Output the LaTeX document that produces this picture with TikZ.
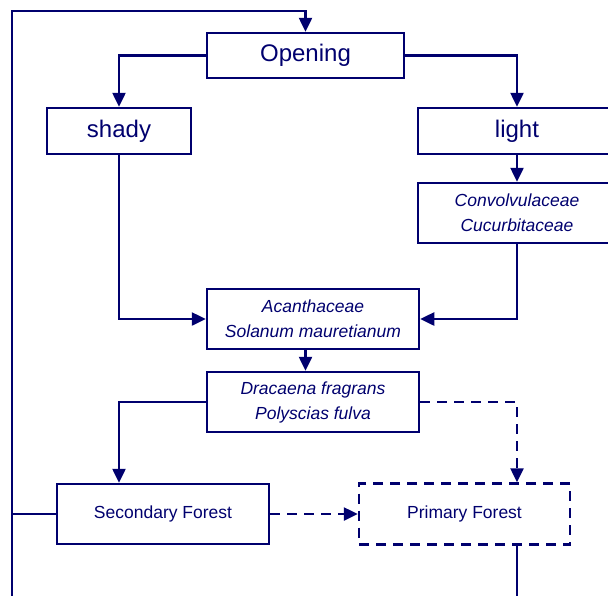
\documentclass[tikz,border=0pt]{standalone}
\usepackage{fontspec}
\setmainfont{Liberation Sans}
\usetikzlibrary{arrows.meta}
\definecolor{navy}{RGB}{0,0,110}

\begin{document}
\begin{tikzpicture}[x=1pt,y=-1pt,>={Triangle[length=14pt,width=13pt]},
 box/.style={draw=navy,line width=2.5pt,text=navy,inner sep=0pt,align=center,font=\fontsize{17.5}{25}\selectfont},
 big/.style={font=\fontsize{24}{28}\selectfont},
 taxa/.style={font=\fontsize{17.5}{25}\selectfont\itshape},
 flow/.style={->,line width=2.5pt,navy},
 maybe/.style={dash pattern=on 10pt off 7pt}]
\clip (0,0) rectangle (608,595);
\node[box,big,minimum width=197pt,minimum height=45pt] (opening) at (305.5,55.5) {Opening};
\node[box,big,minimum width=144pt,minimum height=46pt] (shady) at (119,131) {shady};
\node[box,big,minimum width=198pt,minimum height=46pt] (light) at (517,131) {light};
\node[box,taxa,minimum width=198pt,minimum height=60pt] (climbers) at (517,213) {Convolvulaceae\\Cucurbitaceae};
\node[box,taxa,minimum width=212pt,minimum height=60pt] (herbs) at (313,319) {Acanthaceae\\Solanum mauretianum};
\node[box,taxa,minimum width=212pt,minimum height=60pt] (trees) at (313,402) {Dracaena fragrans\\Polyscias fulva};
\node[box,minimum width=212pt,minimum height=60pt] (secondary) at (163,514) {Secondary Forest};
\node[box,maybe,minimum width=211pt,minimum height=61pt] (primary) at (464.5,514) {Primary Forest};
\coordinate (loopbot) at (12,640);
\coordinate (looptop) at (12,11);

\draw[flow] (opening.west) -| (shady.north);
\draw[flow] (opening.east) -| (light.north);
\draw[flow] (light) -- (climbers);
\draw[flow] (shady.south) |- (herbs.west);
\draw[flow] (climbers.south) |- (herbs.east);
\draw[flow] (herbs.south -| opening.south) -- (trees.north -| opening.south);
\draw[flow] (trees.west) -| (secondary.north -| shady.south);
\draw[flow,maybe] (trees.east) -| (primary.north -| light.south);
\draw[flow,maybe] (secondary) -- (primary);
\draw[flow] (primary.south -| light.south) |- (loopbot) -- (looptop) -| (opening.north);
\draw[line width=2.5pt,navy] (secondary.west) -- (secondary.west -| looptop);
\end{tikzpicture}
\end{document}
